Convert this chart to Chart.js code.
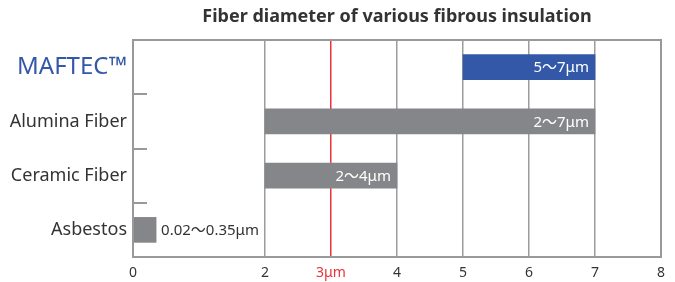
<!DOCTYPE html>
<html>
<head>
<meta charset="utf-8">
<script src="https://cdn.jsdelivr.net/npm/chart.js@4.4.0/dist/chart.umd.min.js"></script>
<style>
  html, body { margin: 0; padding: 0; background: #fff; }
  #wrap { width: 675px; height: 282px; }
</style>
</head>
<body>
<div id="wrap"><canvas id="myChart" width="675" height="282"></canvas></div>
<script>
// data
var categories = ['MAFTEC\u2122', 'Alumina Fiber', 'Ceramic Fiber', 'Asbestos'];
var lowValues = [5, 2, 2, 0.02];
var highValues = [7, 7, 4, 0.35];
var rangeLabels = ['5\u301c7\u03bcm', '2\u301c7\u03bcm', '2\u301c4\u03bcm', '0.02\u301c0.35\u03bcm'];
var xTicks = [0, 2, 3, 4, 5, 6, 7, 8];
var markValue = 3;
var titleText = 'Fiber diameter of various fibrous insulation';

var FONT = '"Noto Sans", "Noto Sans CJK JP", sans-serif';
var BLUE = '#3358a8';
var GRAY = '#858689';
var RED = '#e8333b';
var LINE = '#9c9c9c';

var ranges = lowValues.map(function (lo, i) { return [lo, highValues[i]]; });

// title, frame, inner ticks and bar labels
var extras = {
  id: 'extras',
  afterDraw: function (chart) {
    var ctx = chart.ctx;
    var a = chart.chartArea;
    var y = chart.scales.y;
    ctx.save();

    ctx.fillStyle = '#333';
    ctx.font = 'bold 18px ' + FONT;
    ctx.textAlign = 'center';
    ctx.textBaseline = 'middle';
    ctx.fillText(titleText, (a.left + a.right) / 2, 17);

    ctx.strokeStyle = '#999';
    ctx.lineWidth = 2;
    ctx.strokeRect(a.left, a.top, a.right - a.left, a.bottom - a.top);

    for (var i = 0; i < categories.length - 1; i++) {
      var py = Math.round((y.getPixelForTick(i) + y.getPixelForTick(i + 1)) / 2);
      ctx.beginPath();
      ctx.moveTo(a.left, py);
      ctx.lineTo(a.left + 14, py);
      ctx.stroke();
    }

    var meta = chart.getDatasetMeta(0);
    ctx.font = '15px ' + FONT;
    ctx.textBaseline = 'middle';
    meta.data.forEach(function (bar, i) {
      var w = bar.x - bar.base;
      if (w > 60) {
        ctx.fillStyle = '#fff';
        ctx.textAlign = 'right';
        ctx.fillText(rangeLabels[i], bar.x - 6, bar.y + 1);
      } else {
        ctx.fillStyle = '#333';
        ctx.textAlign = 'left';
        ctx.fillText(rangeLabels[i], bar.x + 5, bar.y + 1);
      }
    });
    ctx.restore();
  }
};

var myChart = new Chart(document.getElementById('myChart'), {
  type: 'bar',
  data: {
    labels: categories,
    datasets: [{
      data: ranges,
      backgroundColor: categories.map(function (c, i) { return i === 0 ? BLUE : GRAY; }),
      borderWidth: 0,
      barThickness: 25
    }]
  },
  options: {
    indexAxis: 'y',
    responsive: false,
    animation: false,
    layout: { padding: { top: 40, right: 14, left: 0, bottom: 0 } },
    plugins: {
      legend: { display: false },
      title: { display: false },
      tooltip: { enabled: false }
    },
    scales: {
      x: {
        min: 0,
        max: 8,
        afterBuildTicks: function (scale) {
          scale.ticks = xTicks.map(function (v) { return { value: v }; });
        },
        afterFit: function (scale) { scale.height = 25; },
        grid: {
          drawTicks: false,
          lineWidth: 1.5,
          color: function (c) {
            if (c.tick && c.tick.value === markValue) return RED;
            if (c.tick && c.tick.value === 0) return 'rgba(0,0,0,0)';
            return LINE;
          }
        },
        border: { display: false },
        ticks: {
          padding: 8,
          autoSkip: false,
          maxRotation: 0,
          font: { family: FONT, size: 14 },
          color: function (c) { return c.tick && c.tick.value === markValue ? RED : '#333'; },
          callback: function (v) { return v === markValue ? v + '\u03bcm' : v; }
        }
      },
      y: {
        afterFit: function (scale) { scale.width = 133; },
        grid: { display: false, drawTicks: false },
        border: { display: false },
        ticks: {
          padding: 6,
          font: function (c) {
            return c.index === 0 ? { family: FONT, size: 24 } : { family: FONT, size: 18 };
          },
          color: function (c) { return c.index === 0 ? BLUE : '#333'; }
        }
      }
    }
  },
  plugins: [extras]
});
</script>
</body>
</html>
